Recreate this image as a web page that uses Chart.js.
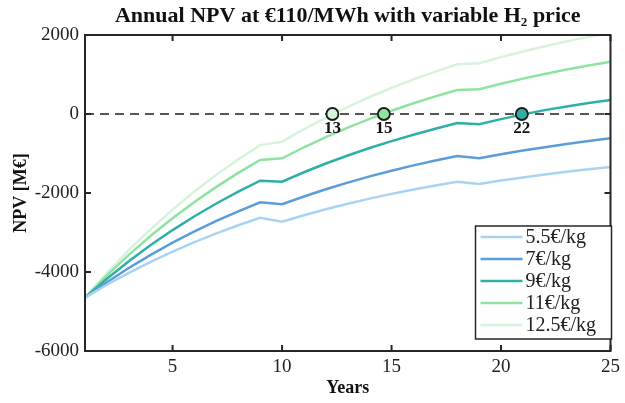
<!DOCTYPE html>
<html>
<head>
<meta charset="utf-8">
<script src="https://cdn.jsdelivr.net/npm/chart.js@4"></script>
<style>
  html, body { margin: 0; padding: 0; background: #fff; }
  #wrap { width: 625px; height: 403px; }
</style>
</head>
<body>
<div id="wrap"><canvas id="npv" width="625" height="403"></canvas></div>
<script>
const years = [1, 2, 3, 4, 5, 6, 7, 8, 9, 10, 11, 12, 13, 14, 15, 16, 17, 18, 19, 20, 21, 22, 23, 24, 25];
const npv55 = [-4650, -4323, -4021, -3741, -3482, -3243, -3022, -2817, -2627, -2727, -2563, -2412, -2272, -2142, -2022, -1911, -1808, -1713, -1772, -1686, -1606, -1532, -1464, -1401, -1342];
const npv7 = [-4650, -4260, -3899, -3565, -3256, -2971, -2707, -2463, -2237, -2286, -2088, -1905, -1736, -1580, -1435, -1301, -1177, -1063, -1122, -1020, -926, -839, -758, -683, -614];
const npv9 = [-4650, -4171, -3728, -3318, -2939, -2589, -2265, -1965, -1688, -1714, -1475, -1254, -1050, -861, -686, -524, -374, -230, -258, -130, -10, 98, 190, 276, 356];
const npv11 = [-4650, -4087, -3566, -3084, -2638, -2226, -1845, -1492, -1165, -1122, -842, -583, -344, -123, 82, 271, 446, 608, 625, 765, 895, 1015, 1126, 1229, 1324];
const npv125 = [-4650, -4026, -3448, -2914, -2420, -1963, -1540, -1149, -787, -701, -384, -91, 180, 430, 662, 876, 1074, 1258, 1284, 1439, 1583, 1716, 1839, 1953, 2058];

const seriesLabels = ['5.5€/kg', '7€/kg', '9€/kg', '11€/kg', '12.5€/kg'];
const seriesColors = ['#a9d3f2', '#5b9dd9', '#2fb0a6', '#8fe3a0', '#d6f4dc'];

// break-even points
const breakEvenYears = [12.3, 14.65, 20.95];
const breakEvenLabels = ['13', '15', '22'];
const breakEvenColors = ['#d6f4dc', '#8fe3a0', '#2fb0a6'];

const xTicks = [5, 10, 15, 20, 25];
const yTicks = [-6000, -4000, -2000, 0, 2000];

const serif = "'Liberation Serif', 'Times New Roman', serif";

function toPoints(values) {
    return values.map((v, i) => ({ x: years[i], y: v }));
}

const allSeries = [npv55, npv7, npv9, npv11, npv125];
const lineSets = allSeries.map((vals, i) => ({
    label: seriesLabels[i],
    data: toPoints(vals),
    borderColor: seriesColors[i],
    backgroundColor: seriesColors[i],
    borderWidth: 2.5,
    pointRadius: 0,
    tension: 0,
    order: 2
}));

const frame = {
    id: 'frame',
    afterDraw(chart) {
        const ctx = chart.ctx;
        const a = chart.chartArea;
        const xs = chart.scales.x, ys = chart.scales.y;
        ctx.save();
        // box and inward ticks
        ctx.strokeStyle = '#262626';
        ctx.lineWidth = 2;
        ctx.strokeRect(a.left, a.top, a.right - a.left, a.bottom - a.top);
        ctx.beginPath();
        xTicks.forEach(t => {
            const px = xs.getPixelForValue(t);
            ctx.moveTo(px, a.bottom); ctx.lineTo(px, a.bottom - 6);
            ctx.moveTo(px, a.top); ctx.lineTo(px, a.top + 6);
        });
        yTicks.forEach(t => {
            const py = ys.getPixelForValue(t);
            ctx.moveTo(a.left, py); ctx.lineTo(a.left + 6, py);
            ctx.moveTo(a.right, py); ctx.lineTo(a.right - 6, py);
        });
        ctx.stroke();

        // title
        ctx.fillStyle = '#111';
        ctx.font = 'bold 22px ' + serif;
        ctx.textAlign = 'center';
        ctx.textBaseline = 'middle';
        ctx.fillText('Annual NPV at €110/MWh with variable H₂ price', (a.left + a.right) / 2, 16);

        // break-even labels
        const meta = chart.getDatasetMeta(chart.data.datasets.length - 1);
        ctx.font = 'bold 17px ' + serif;
        ctx.textBaseline = 'top';
        meta.data.forEach((el, i) => {
            ctx.fillText(breakEvenLabels[i], el.x, el.y + 6);
        });

        // legend box, lower right
        const lw = 136, lh = 113;
        const lx = a.right - lw + 1, ly = a.bottom - lh - 12;
        ctx.fillStyle = '#fff';
        ctx.fillRect(lx, ly, lw, lh);
        ctx.lineWidth = 1.5;
        ctx.strokeStyle = '#262626';
        ctx.strokeRect(lx, ly, lw, lh);
        ctx.font = '20px ' + serif;
        ctx.textAlign = 'left';
        ctx.textBaseline = 'middle';
        lineSets.forEach((ds, i) => {
            const cy = ly + 11 + i * 22;
            ctx.strokeStyle = ds.borderColor;
            ctx.lineWidth = 2.5;
            ctx.beginPath();
            ctx.moveTo(lx + 5, cy); ctx.lineTo(lx + 47, cy);
            ctx.stroke();
            ctx.fillStyle = '#222';
            ctx.fillText(ds.label, lx + 50, cy + 1);
        });
        ctx.restore();
    }
};

const ctx = document.getElementById('npv').getContext('2d');
const npvChart = new Chart(ctx, {
    type: 'line',
    data: {
        datasets: [
            ...lineSets,
            {
                label: 'zero',
                data: [{ x: 1, y: 0 }, { x: 25, y: 0 }],
                borderColor: '#555',
                borderWidth: 2,
                borderDash: [9, 6],
                pointRadius: 0,
                order: 1
            },
            {
                label: 'break-even',
                type: 'scatter',
                data: breakEvenYears.map(x => ({ x: x, y: 0 })),
                pointRadius: 6,
                pointBorderWidth: 1.8,
                pointBorderColor: '#1a1a1a',
                pointBackgroundColor: breakEvenColors,
                order: 0
            }
        ]
    },
    options: {
        responsive: false,
        animation: false,
        layout: { padding: { top: 35, right: 12, left: 0, bottom: 0 } },
        plugins: {
            legend: { display: false },
            tooltip: { enabled: false }
        },
        scales: {
            x: {
                type: 'linear',
                min: 1,
                max: 25,
                afterBuildTicks: s => { s.ticks = xTicks.map(v => ({ value: v })); },
                grid: { display: false, drawTicks: false },
                border: { display: false },
                ticks: { color: '#222', font: { family: serif, size: 19 }, padding: 5, maxRotation: 0 },
                title: { display: true, text: 'Years', color: '#111', font: { family: serif, size: 18, weight: 'bold' }, padding: { top: 8 } },
                afterFit: s => { s.height = 52; }
            },
            y: {
                min: -6000,
                max: 2000,
                afterBuildTicks: s => { s.ticks = yTicks.map(v => ({ value: v })); },
                grid: { display: false, drawTicks: false },
                border: { display: false },
                ticks: { color: '#222', font: { family: serif, size: 19 }, padding: 6, callback: v => String(v) },
                title: { display: true, text: 'NPV [M€]', color: '#111', font: { family: serif, size: 18, weight: 'bold' }, padding: { bottom: 0, top: 11 } },
                afterFit: s => { s.width = 85; }
            }
        }
    },
    plugins: [frame]
});
</script>
</body>
</html>
